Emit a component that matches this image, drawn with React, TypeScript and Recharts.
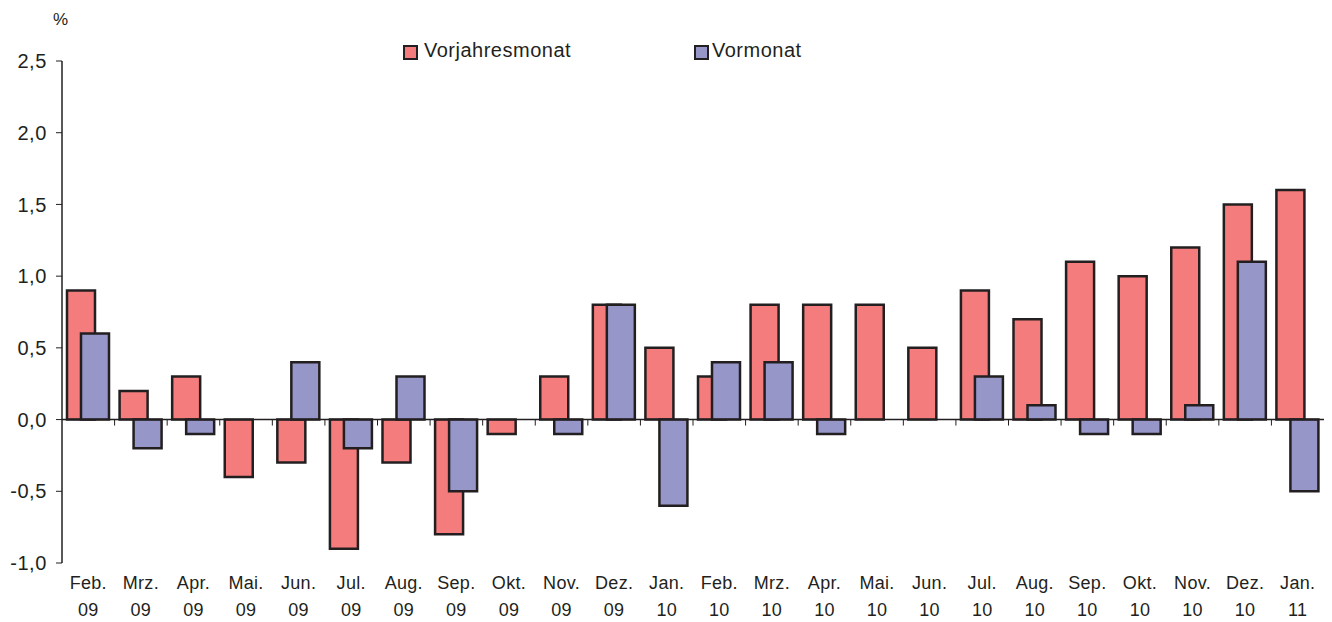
import { BarChart, Bar, XAxis, YAxis, ReferenceLine } from 'recharts'

const months = ['Feb.', 'Mrz.', 'Apr.', 'Mai.', 'Jun.', 'Jul.', 'Aug.', 'Sep.', 'Okt.', 'Nov.', 'Dez.', 'Jan.',
  'Feb.', 'Mrz.', 'Apr.', 'Mai.', 'Jun.', 'Jul.', 'Aug.', 'Sep.', 'Okt.', 'Nov.', 'Dez.', 'Jan.']
const years = ['09', '09', '09', '09', '09', '09', '09', '09', '09', '09', '09', '10',
  '10', '10', '10', '10', '10', '10', '10', '10', '10', '10', '10', '11']
const vorjahresmonat = [0.9, 0.2, 0.3, -0.4, -0.3, -0.9, -0.3, -0.8, -0.1, 0.3, 0.8, 0.5,
  0.3, 0.8, 0.8, 0.8, 0.5, 0.9, 0.7, 1.1, 1.0, 1.2, 1.5, 1.6]
const vormonat = [0.6, -0.2, -0.1, 0, 0.4, -0.2, 0.3, -0.5, 0, -0.1, 0.8, -0.6,
  0.4, 0.4, -0.1, 0, 0, 0.3, 0.1, -0.1, -0.1, 0.1, 1.1, -0.5]
const yTicks = [-1, -0.5, 0, 0.5, 1, 1.5, 2, 2.5]

const data = months.map((m, i) => ({
  key: `${m} ${years[i]}`,
  month: m,
  year: years[i],
  vj: vorjahresmonat[i],
  vm: vormonat[i],
}))

const INK = '#231F20'
const RED = '#F47C7C'
const BLUE = '#9696C8'
const FONT = '"Liberation Sans", Arial, sans-serif'

const XTick = ({ x, y, index }: any) => (
  <g fontSize={18} fill={INK} fontFamily={FONT} letterSpacing={0.3}>
    <text x={x} y={y + 18} textAnchor="middle">{data[index].month}</text>
    <text x={x} y={y + 45} textAnchor="middle">{data[index].year}</text>
  </g>
)

// zero line with small ticks at the category borders
const ZeroLine = ({ x1, y1, x2, y2 }: any) => {
  const step = (x2 - x1) / data.length
  return (
    <g>
      <line x1={x1} y1={y1} x2={x2} y2={y2} stroke={INK} strokeWidth={1.5} />
      {data.slice(0, -1).map((_, i) => (
        <line key={i} x1={x1 + step * (i + 1)} y1={y1} x2={x1 + step * (i + 1)} y2={y1 + 6} stroke={INK} strokeWidth={1} />
      ))}
    </g>
  )
}

const legendText = { position: 'absolute' as const, top: 39, fontFamily: FONT, fontSize: 20, letterSpacing: 0.5, color: INK }
const swatch = { position: 'absolute' as const, top: 45, width: 11, height: 11, border: `2px solid ${INK}` }

export default function App() {
  return (
    <div style={{ position: 'absolute', left: 0, top: 0, width: 1332, height: 622, background: '#fff' }}>
      <div style={{ position: 'absolute', left: 53, top: 10, fontFamily: FONT, fontSize: 17, color: INK }}>%</div>
      <div style={{ ...swatch, left: 403, background: RED }} />
      <span style={{ ...legendText, left: 424 }}>Vorjahresmonat</span>
      <div style={{ ...swatch, left: 694, background: BLUE }} />
      <span style={{ ...legendText, left: 712 }}>Vormonat</span>
      <BarChart
        width={1332}
        height={622}
        data={data}
        margin={{ top: 61, right: 8, left: 0, bottom: 0 }}
        barSize={28}
        barGap={-14}
      >
        <XAxis dataKey="key" axisLine={false} tickLine={false} height={59} tick={<XTick />} interval={0} />
        <YAxis
          width={62}
          domain={[-1, 2.5]}
          ticks={yTicks}
          tickFormatter={(v: number) => v.toFixed(1).replace('.', ',')}
          tick={{ fontSize: 20, fill: INK, fontFamily: FONT, letterSpacing: 0.6 }}
          axisLine={{ stroke: INK, strokeWidth: 1.5 }}
          tickLine={{ stroke: INK }}
          tickSize={6}
          tickMargin={9}
        />
        <Bar dataKey="vj" name="Vorjahresmonat" fill={RED} stroke={INK} strokeWidth={2.5} isAnimationActive={false} />
        <Bar dataKey="vm" name="Vormonat" fill={BLUE} stroke={INK} strokeWidth={2.5} isAnimationActive={false} />
        <ReferenceLine y={0} shape={<ZeroLine />} />
      </BarChart>
    </div>
  )
}
